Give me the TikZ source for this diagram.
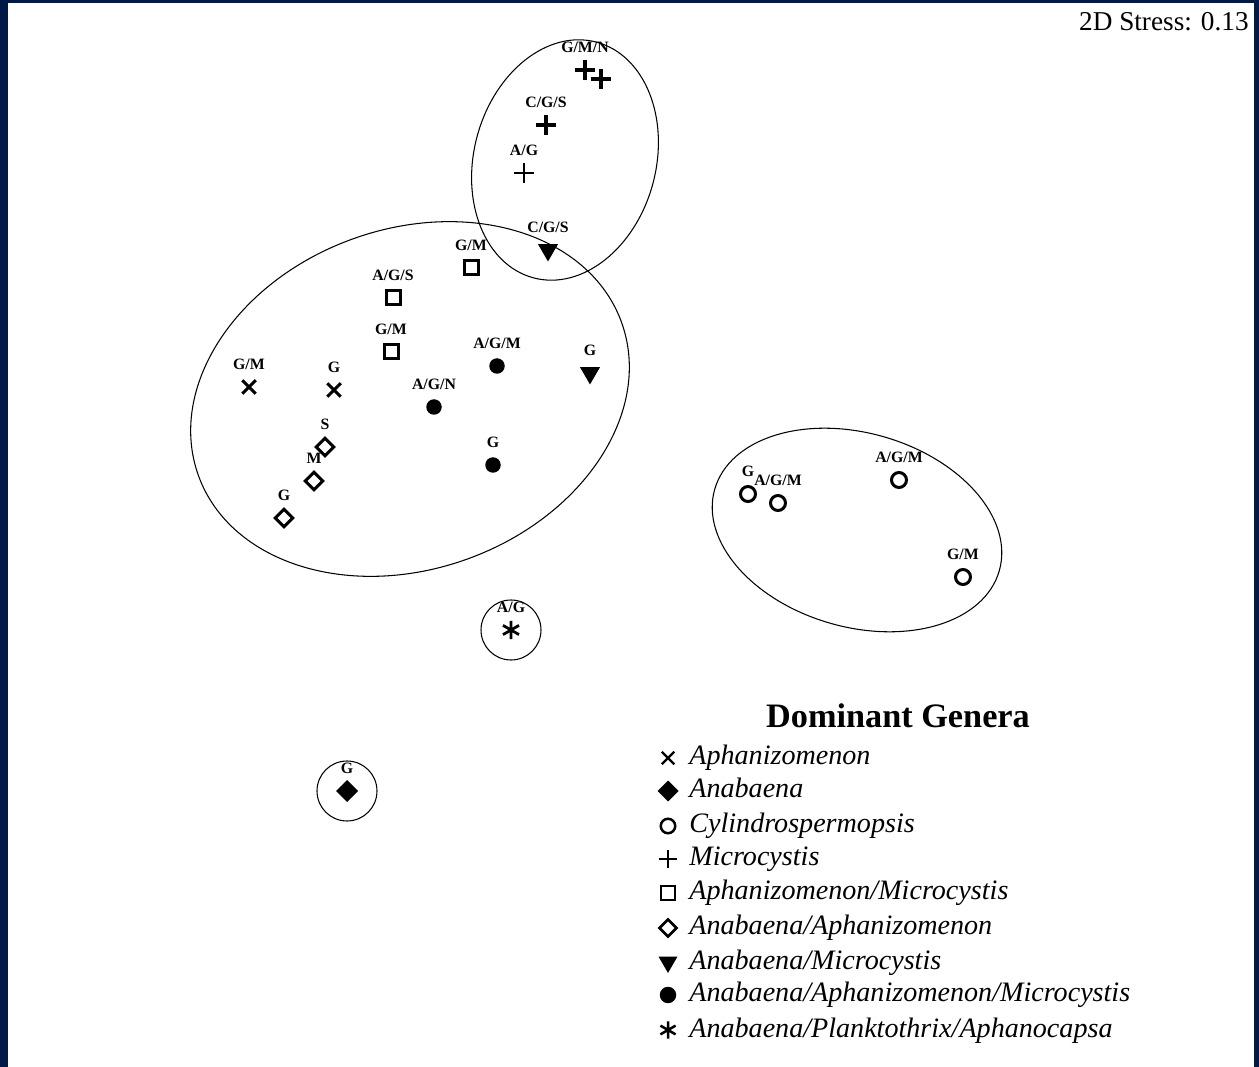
\documentclass[tikz,border=0pt]{standalone}
\usepackage{fontspec}
\setmainfont{Liberation Serif}
\usetikzlibrary{positioning, shapes.geometric, shapes.misc}
\definecolor{navyframe}{RGB}{0,25,70}

\tikzset{
  mk/.style={inner sep=0pt, outer sep=0pt},
  xmk/.style={mk, cross out, draw, line width=0.06cm, minimum size=0.27cm},
  plusmk/.style={mk, cross out, draw, rotate=45, line width=0.07cm, minimum size=0.27cm},
  sqmk/.style={mk, rectangle, draw, line width=0.06cm, minimum size=0.28cm},
  dotmk/.style={mk, circle, fill, minimum size=0.31cm},
  ringmk/.style={mk, circle, draw, line width=0.06cm, minimum size=0.30cm},
  odmk/.style={mk, diamond, draw, line width=0.06cm, minimum size=0.35cm},
  fdmk/.style={mk, diamond, fill, minimum size=0.44cm},
  trimk/.style={mk, regular polygon, regular polygon sides=3, shape border rotate=180, fill, minimum size=0.46cm},
  astmk/.style={mk, circle, minimum size=0.37cm},
  lbl/.style={font=\bfseries\fontsize{9}{10}\selectfont, inner sep=0pt, text height=6pt, text depth=0pt},
  hull/.style={line width=0.6pt},
  legtxt/.style={font=\itshape\fontsize{16}{18}\selectfont, inner sep=0pt, anchor=base west, yshift=-0.14cm}
}

\begin{document}
\begin{tikzpicture}[x=0.02cm, y=-0.02cm]
  \useasboundingbox (0,0) rectangle (1259,1067);
  \fill[navyframe] (0,0) rectangle (1259,1067);
  \fill[white] (8,3) rectangle (1254,1067);

  % groups
  \draw[hull, rotate around={20:(410,399)}] (410,399) ellipse [x radius=225, y radius=170];
  \draw[hull, rotate around={-15:(565,160)}] (565,160) ellipse [x radius=91, y radius=122];
  \draw[hull, rotate around={-16:(857,530)}] (857,530) ellipse [x radius=148, y radius=97];
  \draw[hull] (511,630) circle [radius=30];
  \draw[hull] (347,791) circle [radius=30];

  \node[anchor=east, inner sep=0pt, font=\fontsize{15.5}{18}\selectfont] (stress) at (1249,22) {2D Stress: 0.13};

  % Microcystis
  \node[plusmk] (mc1) at (585,70) {};
  \node[plusmk] (mc2) at (601,79) {};
  \node[plusmk] (mc3) at (546,125) {};
  \node[plusmk, line width=0.045cm] (mc4) at (524,173) {};
  \node[lbl, above=0.35cm of mc1.center] (lmc1) {G/M/N};
  \node[lbl, above=0.35cm of mc3.center] (lmc3) {C/G/S};
  \node[lbl, above=0.35cm of mc4.center] (lmc4) {A/G};

  % Anabaena/Microcystis
  \node[trimk] (am1) at (548,250) {};
  \node[trimk] (am2) at (590,373) {};
  \node[lbl, above=0.35cm of am1.center] (lam1) {C/G/S};
  \node[lbl, above=0.35cm of am2.center] (lam2) {G};

  % Aphanizomenon/Microcystis
  \node[sqmk] (ap1) at (471,268) {};
  \node[sqmk] (ap2) at (393,298) {};
  \node[sqmk] (ap3) at (391,352) {};
  \node[lbl, above=0.35cm of ap1.center] (lap1) {G/M};
  \node[lbl, above=0.35cm of ap2.center] (lap2) {A/G/S};
  \node[lbl, above=0.35cm of ap3.center] (lap3) {G/M};

  % Aphanizomenon
  \node[xmk] (ph1) at (249,387) {};
  \node[xmk] (ph2) at (334,390) {};
  \node[lbl, above=0.35cm of ph1.center] (lph1) {G/M};
  \node[lbl, above=0.35cm of ph2.center] (lph2) {G};

  % Anabaena/Aphanizomenon/Microcystis
  \node[dotmk] (aam1) at (497,366) {};
  \node[dotmk] (aam2) at (434,407) {};
  \node[dotmk] (aam3) at (493,465) {};
  \node[lbl, above=0.35cm of aam1.center] (laam1) {A/G/M};
  \node[lbl, above=0.35cm of aam2.center] (laam2) {A/G/N};
  \node[lbl, above=0.35cm of aam3.center] (laam3) {G};

  % Anabaena/Aphanizomenon
  \node[odmk] (aa1) at (325,447) {};
  \node[odmk] (aa2) at (314,481) {};
  \node[odmk] (aa3) at (284,518) {};
  \node[lbl, above=0.35cm of aa1.center] (laa1) {S};
  \node[lbl, above=0.35cm of aa2.center] (laa2) {M};
  \node[lbl, above=0.35cm of aa3.center] (laa3) {G};

  % Cylindrospermopsis
  \node[ringmk] (cy1) at (748,494) {};
  \node[ringmk] (cy2) at (778,503) {};
  \node[ringmk] (cy3) at (899,480) {};
  \node[ringmk] (cy4) at (963,577) {};
  \node[lbl, above=0.35cm of cy1.center] (lcy1) {G};
  \node[lbl, above=0.35cm of cy2.center] (lcy2) {A/G/M};
  \node[lbl, above=0.35cm of cy3.center] (lcy3) {A/G/M};
  \node[lbl, above=0.35cm of cy4.center] (lcy4) {G/M};

  % Anabaena/Planktothrix/Aphanocapsa
  \node[astmk] (apa) at (511,630) {};
  \draw[line width=0.055cm] (apa.90) -- (apa.270) (apa.30) -- (apa.210) (apa.150) -- (apa.330);
  \node[lbl, above=0.35cm of apa.center] (lapa) {A/G};

  % Anabaena
  \node[fdmk] (an1) at (347,791) {};
  \node[lbl, above=0.35cm of an1.center] (lan1) {G};

  % legend
  \node[font=\bfseries\fontsize{19.5}{22}\selectfont, inner sep=0pt] (title) at (898,716) {Dominant Genera};
  \node[xmk, line width=0.045cm, minimum size=0.25cm] (lg1) at (668,758) {};
  \node[fdmk, minimum size=0.42cm] (lg2) at (668,791) {};
  \node[ringmk, line width=0.05cm, minimum size=0.29cm] (lg3) at (668,826) {};
  \node[plusmk, line width=0.05cm, minimum size=0.26cm] (lg4) at (668,859) {};
  \node[sqmk, line width=0.045cm, minimum size=0.27cm] (lg5) at (668,893) {};
  \node[odmk, line width=0.05cm, minimum size=0.34cm] (lg6) at (668,928) {};
  \node[trimk, minimum size=0.44cm] (lg7) at (668,962) {};
  \node[dotmk, minimum size=0.33cm] (lg8) at (668,995) {};
  \node[astmk, minimum size=0.35cm] (lg9) at (668,1030) {};
  \draw[line width=0.05cm] (lg9.90) -- (lg9.270) (lg9.30) -- (lg9.210) (lg9.150) -- (lg9.330);
  \node[right=0.42cm of lg1.center, legtxt] (t1) {Aphanizomenon};
  \node[right=0.42cm of lg2.center, legtxt] (t2) {Anabaena};
  \node[right=0.42cm of lg3.center, legtxt] (t3) {Cylindrospermopsis};
  \node[right=0.42cm of lg4.center, legtxt] (t4) {Microcystis};
  \node[right=0.42cm of lg5.center, legtxt] (t5) {Aphanizomenon/Microcystis};
  \node[right=0.42cm of lg6.center, legtxt] (t6) {Anabaena/Aphanizomenon};
  \node[right=0.42cm of lg7.center, legtxt] (t7) {Anabaena/Microcystis};
  \node[right=0.42cm of lg8.center, legtxt] (t8) {Anabaena/Aphanizomenon/Microcystis};
  \node[right=0.42cm of lg9.center, legtxt] (t9) {Anabaena/Planktothrix/Aphanocapsa};
\end{tikzpicture}
\end{document}
